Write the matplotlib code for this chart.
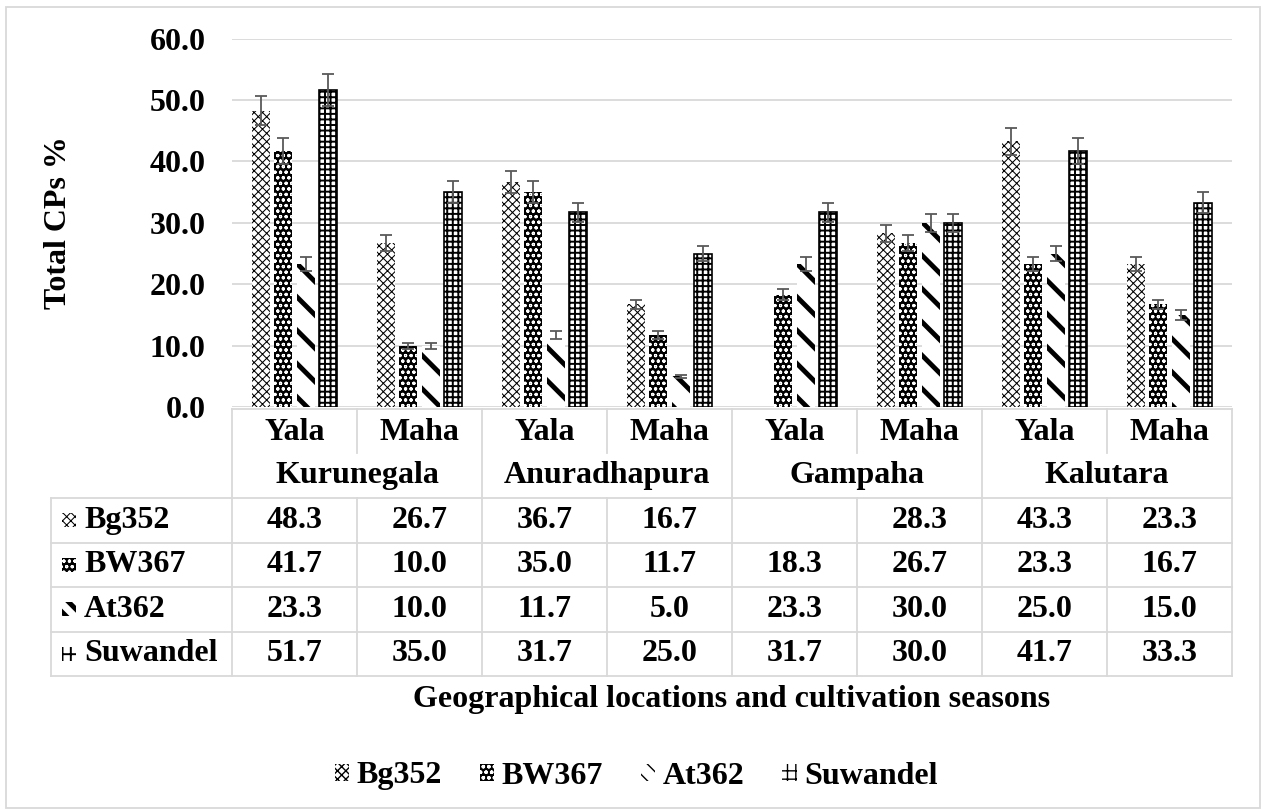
import numpy as np
import matplotlib
matplotlib.use('Agg')
import matplotlib.pyplot as plt
from matplotlib.patches import Rectangle

# ---------------- data ----------------
locations = ['Kurunegala', 'Anuradhapura', 'Gampaha', 'Kalutara']
seasons = ['Yala', 'Maha', 'Yala', 'Maha', 'Yala', 'Maha', 'Yala', 'Maha']
varieties = ['Bg352', 'BW367', 'At362', 'Suwandel']
bg352 = [48.3, 26.7, 36.7, 16.7, np.nan, 28.3, 43.3, 23.3]
bw367 = [41.7, 10.0, 35.0, 11.7, 18.3, 26.7, 23.3, 16.7]
at362 = [23.3, 10.0, 11.7, 5.0, 23.3, 30.0, 25.0, 15.0]
suwandel = [51.7, 35.0, 31.7, 25.0, 31.7, 30.0, 41.7, 33.3]
err_bg352 = [2.4, 1.3, 1.8, 0.8, np.nan, 1.4, 2.2, 1.2]
err_bw367 = [2.1, 0.5, 1.75, 0.6, 0.9, 1.3, 1.2, 0.8]
err_at362 = [1.2, 0.5, 0.6, 0.25, 1.2, 1.5, 1.25, 0.75]
err_suwandel = [2.6, 1.75, 1.6, 1.25, 1.6, 1.5, 2.1, 1.7]
yticks = [0, 10, 20, 30, 40, 50, 60]
ylabel = 'Total CPs %'
xlabel = 'Geographical locations and cultivation seasons'

series = [bg352, bw367, at362, suwandel]
errors = [err_bg352, err_bw367, err_at362, err_suwandel]

# ---------------- style ----------------
plt.rcParams['font.family'] = ['Liberation Serif', 'DejaVu Serif']
plt.rcParams['font.weight'] = 'bold'
FS = 23
GRID = '#d9d9d9'
styles = [
    dict(facecolor='white', edgecolor='black', linewidth=0, hatch='xxxx', hlw=0.75, ghatch='xxxx'),
    dict(facecolor='black', edgecolor='white', linewidth=0, hatch='ooo', hlw=0.8, ghatch='ooo'),
    dict(facecolor='white', edgecolor='black', linewidth=0, hatch='\\', hlw=3.5, ghatch='\\\\'),
    dict(facecolor='white', edgecolor='black', linewidth=1.2, hatch='+++', hlw=1.4, ghatch='++'),
]

W, H = 1261, 810
fig = plt.figure(figsize=(W / 100, H / 100), dpi=100)
fig.patch.set_facecolor('white')


def fx(x):
    return x / W


def fy(y):
    return 1 - y / H


def hatched_rect(xy, w, h, st, **kw):
    with plt.rc_context({'hatch.linewidth': st['hlw']}):
        r = Rectangle(xy, w, h, facecolor=st['facecolor'],
                      edgecolor=st['edgecolor'], linewidth=0,
                      hatch=st['ghatch'], **kw)
        if hasattr(r, 'set_hatch_linewidth'):
            r.set_hatch_linewidth(st['hlw'])
    return r


X0, X1 = 232, 1232
Y60, Y0 = 38.7, 407

# overlay for table, labels and border (pixel coords)
ov = fig.add_axes([0, 0, 1, 1])
ov.set_xlim(0, W)
ov.set_ylim(H, 0)
ov.axis('off')

ax = fig.add_axes([fx(X0), fy(Y0), (X1 - X0) / W, (Y0 - Y60) / H])
ax.set_facecolor('none')
n = len(seasons)
x = np.arange(n)
pitch = 0.18
bw = 0.144
for i, (vals, err, st) in enumerate(zip(series, errors, styles)):
    with plt.rc_context({'hatch.linewidth': st['hlw']}):
        bc = ax.bar(x + (i - 1.5) * pitch, vals, width=bw,
                    facecolor=st['facecolor'], edgecolor=st['edgecolor'],
                    linewidth=st['linewidth'], hatch=st['hatch'], zorder=2,
                    label=varieties[i])
        for p in bc.patches:
            if hasattr(p, 'set_hatch_linewidth'):
                p.set_hatch_linewidth(st['hlw'])
    ax.errorbar(x + (i - 1.5) * pitch, vals, yerr=err, fmt='none',
                ecolor='#595959', elinewidth=1.3, capsize=4.3, capthick=1.3,
                zorder=3)

ax.set_xlim(-0.5, n - 0.5)
ax.set_ylim(0, 60)
ax.set_yticks(yticks)
ax.set_yticklabels([f'{v:.1f}' for v in yticks], fontsize=FS, fontweight='bold')
ax.tick_params(axis='y', length=0, pad=19)
ax.set_xticks([])
ax.grid(axis='y', color=GRID, linewidth=1.3, zorder=0)
ax.set_axisbelow(True)
for s in ax.spines.values():
    s.set_visible(False)

# y label
ov.text(59, 223, ylabel, rotation=90, ha='center', va='center',
        fontsize=FS, fontweight='bold')

# ---------------- data table ----------------
colw = (X1 - X0) / n
r_top = 409
r1 = 453
r2 = 498
row_h = 44.5
LX = 51
lw = 1.3
ov.plot([X0, X1], [r_top, r_top], color=GRID, lw=lw)
for k in range(n + 1):
    xx = X0 + k * colw
    ytop = r_top
    if k % 2 == 1:
        ov.plot([xx, xx], [r_top, r1], color=GRID, lw=lw)
        ytop = r2
    ov.plot([xx, xx], [ytop, r2 + 4 * row_h], color=GRID, lw=lw)
ov.plot([LX, LX], [r2, r2 + 4 * row_h], color=GRID, lw=lw)
for j in range(5):
    yy = r2 + j * row_h
    ov.plot([LX, X1], [yy, yy], color=GRID, lw=lw)

for k in range(n):
    ov.text(X0 + (k + 0.5) * colw, (r_top + r1) / 2 + 1, seasons[k],
            ha='center', va='center', fontsize=FS, fontweight='bold')
for m, loc in enumerate(locations):
    ov.text(X0 + (2 * m + 1) * colw, (r1 + r2) / 2, loc,
            ha='center', va='center', fontsize=FS, fontweight='bold')

for j, (vals, st) in enumerate(zip(series, styles)):
    yc = r2 + (j + 0.5) * row_h
    ov.add_patch(hatched_rect((62, yc - 7), 14, 14, st))
    ov.text(84, yc, varieties[j], ha='left', va='center', fontsize=FS,
            fontweight='bold')
    for k, v in enumerate(vals):
        if np.isnan(v):
            continue
        ov.text(X0 + (k + 0.5) * colw, yc, f'{v:.1f}', ha='center',
                va='center', fontsize=FS, fontweight='bold')

# axis title
ov.text((X0 + X1) / 2, 699, xlabel, ha='center', va='center', fontsize=FS,
        fontweight='bold')

# legend
handles = [hatched_rect((0, 0), 1, 1, st) for st in styles]
leg = fig.legend(handles=handles, labels=varieties, loc='center',
                 bbox_to_anchor=(fx(636), fy(776)), ncol=4, frameon=False,
                 fontsize=FS, handlelength=0.45, handleheight=0.45,
                 handletextpad=0.22, columnspacing=1.2)
for t in leg.get_texts():
    t.set_fontweight('bold')

# outer border
ov.add_patch(Rectangle((6, 7), 1253.5, 801, facecolor='none', edgecolor=GRID,
                       linewidth=1.3))

fig.savefig('out.png', dpi=100, facecolor='white')
